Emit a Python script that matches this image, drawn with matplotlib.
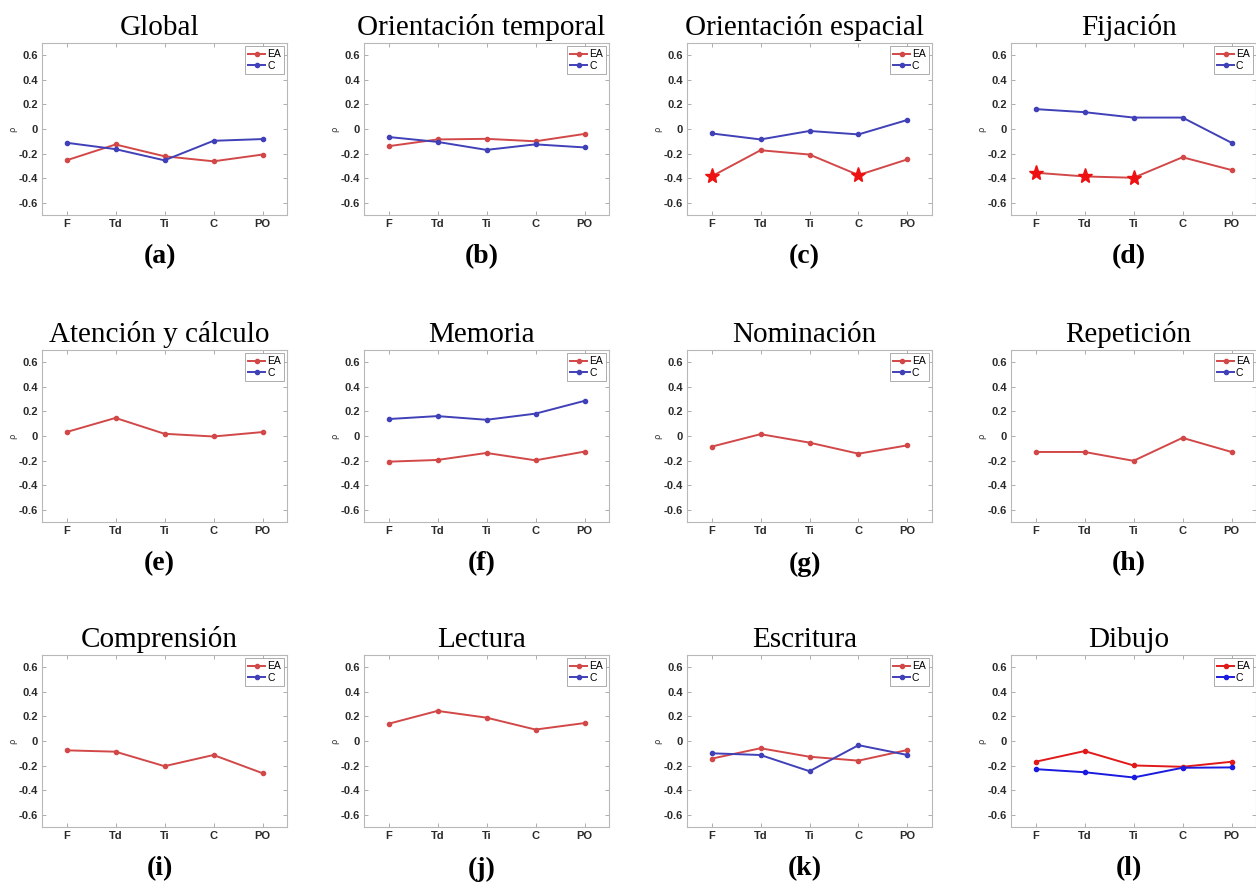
import numpy as np
import matplotlib
matplotlib.use("Agg")
import matplotlib.pyplot as plt

# eje x comun
categorias = ["F", "Td", "Ti", "C", "PO"]

titulos = [
    "Global", "Orientación temporal", "Orientación espacial", "Fijación",
    "Atención y cálculo", "Memoria", "Nominación", "Repetición",
    "Comprensión", "Lectura", "Escritura", "Dibujo",
]
letras = ["a", "b", "c", "d", "e", "f", "g", "h", "i", "j", "k", "l"]

# correlaciones (rho) para el grupo EA
rho_ea = [
    [-0.255, -0.126, -0.222, -0.263, -0.208],
    [-0.140, -0.085, -0.080, -0.100, -0.040],
    [-0.386, -0.173, -0.208, -0.375, -0.247],
    [-0.356, -0.386, -0.397, -0.230, -0.334],
    [0.032, 0.147, 0.018, -0.004, 0.032],
    [-0.209, -0.195, -0.138, -0.198, -0.127],
    [-0.087, 0.015, -0.054, -0.144, -0.076],
    [-0.130, -0.130, -0.202, -0.015, -0.130],
    [-0.076, -0.087, -0.205, -0.114, -0.262],
    [0.140, 0.245, 0.190, 0.093, 0.146],
    [-0.144, -0.059, -0.128, -0.160, -0.073],
    [-0.169, -0.082, -0.199, -0.210, -0.169],
]

# correlaciones para el grupo C (vacio = no visible en la figura)
rho_c = [
    [-0.112, -0.164, -0.255, -0.096, -0.082],
    [-0.065, -0.105, -0.170, -0.125, -0.150],
    [-0.036, -0.085, -0.016, -0.044, 0.074],
    [0.162, 0.137, 0.093, 0.093, -0.112],
    [],
    [0.138, 0.162, 0.132, 0.182, 0.286],
    [],
    [],
    [],
    [],
    [-0.100, -0.114, -0.246, -0.034, -0.114],
    [-0.229, -0.254, -0.297, -0.218, -0.215],
]

# puntos significativos de EA (indices de categoria)
significativos = {2: [0, 3], 3: [0, 1, 2]}

W, H = 1256, 888
fig = plt.figure(figsize=(W / 100, H / 100), dpi=100)

col_left = [42, 364, 687, 1011]
ax_w = 245
row_top = [43, 350, 655]
ax_h = 172

plt.rcParams["font.family"] = ["Liberation Sans", "DejaVu Sans"]

for k in range(12):
    r, c = divmod(k, 4)
    left = col_left[c]
    top = row_top[r]
    ax = fig.add_axes([left / W, 1 - (top + ax_h) / H, ax_w / W, ax_h / H])

    if k == 11:
        red, blue = "#e01a1a", "#1a1ae0"
    else:
        red, blue = "#d24848", "#4040b8"

    x = np.arange(1, len(categorias) + 1)
    ax.plot(x, rho_ea[k], color=red, lw=1.4, marker="o", ms=3, label="EA")
    xc = x[: len(rho_c[k])]
    ax.plot(xc, rho_c[k], color=blue, lw=1.4, marker="o", ms=3, label="C")

    if k in significativos:
        idx = significativos[k]
        ax.plot(x[idx], np.array(rho_ea[k])[idx], ls="none", marker="*",
                ms=11, color="#ee1111", zorder=5)

    ax.set_xlim(0.5, 5.5)
    ax.set_ylim(-0.7, 0.7)
    ax.set_xticks(x)
    ax.set_xticklabels(categorias)
    ax.set_yticks([-0.6, -0.4, -0.2, 0, 0.2, 0.4, 0.6])
    ax.set_yticklabels(["-0.6", "-0.4", "-0.2", "0", "0.2", "0.4", "0.6"])
    ax.tick_params(direction="in", length=3, width=0.6, color="#a0a0a0",
                   labelsize=8, labelcolor="#2a2a2a", pad=3,
                   top=True, right=True)
    for lab in ax.get_xticklabels() + ax.get_yticklabels():
        lab.set_fontweight("bold")
    for s in ax.spines.values():
        s.set_color("#b8b8b8")
        s.set_linewidth(0.8)

    ax.set_ylabel("ρ", fontsize=6, labelpad=1, color="#333333",
                  family=["DejaVu Sans"])

    leg = ax.legend(loc="upper right", fontsize=7.5, handlelength=1.6,
                    handletextpad=0.2, borderpad=0.3, labelspacing=0.15,
                    borderaxespad=0.3, fancybox=False, framealpha=1)
    leg.get_frame().set_edgecolor("#a0a0a0")
    leg.get_frame().set_linewidth(0.6)

    ax.set_title(titulos[k], family=["Liberation Serif"], fontsize=21,
                 pad=6, x=0.48)

    fig.text((left + ax_w / 2 - 5) / W, 1 - (top + ax_h + 42) / H,
             f"({letras[k]})", ha="center", va="center",
             family=["Liberation Serif"], fontsize=20, fontweight="bold")

fig.savefig("out.png", dpi=100, facecolor="white")
